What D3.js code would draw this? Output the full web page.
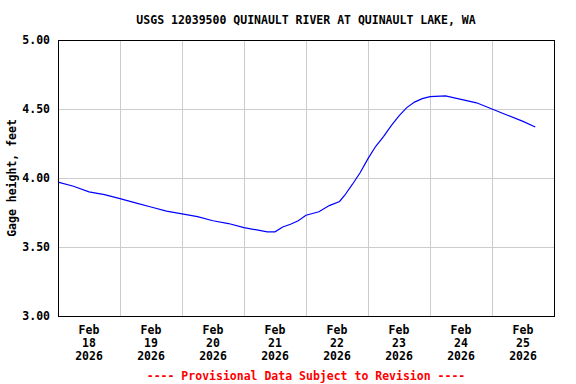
<!DOCTYPE html>
<html>
<head>
<meta charset="utf-8">
<script src="https://cdn.jsdelivr.net/npm/d3@7"></script>
<style>
  body { margin: 0; background: #fff; }
  text { font-family: "DejaVu Sans Mono", "Liberation Mono", monospace; font-weight: bold; }
</style>
</head>
<body>
<div id="chart"></div>
<script>
// gage height readings (feet)
const times = [
  "2026-02-18T00:00", "2026-02-18T06:00", "2026-02-18T12:00", "2026-02-18T18:00",
  "2026-02-19T00:00", "2026-02-19T06:00", "2026-02-19T12:00", "2026-02-19T18:00",
  "2026-02-20T00:00", "2026-02-20T06:00", "2026-02-20T12:00", "2026-02-20T18:00",
  "2026-02-21T00:00", "2026-02-21T06:00", "2026-02-21T09:00", "2026-02-21T12:00",
  "2026-02-21T15:00", "2026-02-21T18:00", "2026-02-21T21:00",
  "2026-02-22T00:00", "2026-02-22T05:00", "2026-02-22T09:00", "2026-02-22T13:00",
  "2026-02-22T15:00", "2026-02-22T18:00", "2026-02-22T21:00",
  "2026-02-23T00:00", "2026-02-23T03:00", "2026-02-23T06:00", "2026-02-23T09:00",
  "2026-02-23T12:00", "2026-02-23T15:00", "2026-02-23T18:00", "2026-02-23T21:00",
  "2026-02-24T00:00", "2026-02-24T06:00", "2026-02-24T12:00", "2026-02-24T18:00",
  "2026-02-25T00:00", "2026-02-25T06:00", "2026-02-25T12:00", "2026-02-25T16:45"
];
const heights = [
  3.97, 3.94, 3.90, 3.88,
  3.85, 3.82, 3.79, 3.76,
  3.74, 3.72, 3.69, 3.67,
  3.64, 3.62, 3.61, 3.61,
  3.645, 3.665, 3.69,
  3.73, 3.755, 3.80, 3.83,
  3.875, 3.955, 4.04,
  4.14, 4.23, 4.30, 4.38,
  4.45, 4.51, 4.55, 4.575,
  4.59, 4.595, 4.57, 4.545,
  4.50, 4.455, 4.41, 4.37
];
const yTicks = [3.0, 3.5, 4.0, 4.5, 5.0];
const dayLabels = ["18", "19", "20", "21", "22", "23", "24", "25"];

const title = "USGS 12039500 QUINAULT RIVER AT QUINAULT LAKE, WA";
const yLabel = "Gage height, feet";
const footer = "---- Provisional Data Subject to Revision ----";

const svgWidth = 576, svgHeight = 384;
const margin = { top: 40, right: 22, bottom: 68, left: 58 };
const width = svgWidth - margin.left - margin.right;
const height = svgHeight - margin.top - margin.bottom;

const parse = d3.timeParse("%Y-%m-%dT%H:%M");
const data = times.map((t, i) => ({ t: parse(t), v: heights[i] }));

const svg = d3.select("#chart").append("svg")
    .attr("width", svgWidth)
    .attr("height", svgHeight);

const g = svg.append("g")
    .attr("transform", `translate(${margin.left},${margin.top})`);

const x = d3.scaleTime()
    .domain([parse("2026-02-18T00:00"), parse("2026-02-26T00:00")])
    .range([0, width]);

const y = d3.scaleLinear()
    .domain([3, 5])
    .range([height, 0]);

// grid
const days = d3.timeDay.range(parse("2026-02-19T00:00"), parse("2026-02-26T00:00"));
g.selectAll(".vgrid").data(days).enter().append("line")
    .attr("x1", d => Math.round(x(d)) + 0.5)
    .attr("x2", d => Math.round(x(d)) + 0.5)
    .attr("y1", 0).attr("y2", height)
    .attr("stroke", "#cccccc");

g.selectAll(".hgrid").data(yTicks).enter().append("line")
    .attr("x1", 0).attr("x2", width)
    .attr("y1", d => Math.round(y(d)) + 0.5)
    .attr("y2", d => Math.round(y(d)) + 0.5)
    .attr("stroke", "#cccccc");

// data line
const line = d3.line()
    .x(d => x(d.t))
    .y(d => y(d.v));

g.append("path")
    .datum(data)
    .attr("d", line)
    .attr("fill", "none")
    .attr("stroke", "#0000ff")
    .attr("stroke-width", 1.2);

// frame
g.append("rect")
    .attr("x", 0.5).attr("y", 0.5)
    .attr("width", width).attr("height", height)
    .attr("fill", "none")
    .attr("stroke", "#000");

// y tick labels
g.selectAll(".ylab").data(yTicks).enter().append("text")
    .attr("x", -8)
    .attr("y", d => y(d) + 4)
    .attr("text-anchor", "end")
    .attr("font-size", "11.5px")
    .text(d => d.toFixed(2));

// x tick labels (centered on noon of each day)
const noons = dayLabels.map(d => parse(`2026-02-${d}T12:00`));
const xl = g.selectAll(".xlab").data(noons).enter().append("text")
    .attr("text-anchor", "middle")
    .attr("font-size", "11.5px");
xl.append("tspan").attr("x", d => x(d)).attr("y", height + 18).text("Feb");
xl.append("tspan").attr("x", d => x(d)).attr("y", height + 31).text((d, i) => dayLabels[i]);
xl.append("tspan").attr("x", d => x(d)).attr("y", height + 44).text("2026");

// title
svg.append("text")
    .attr("x", margin.left + width / 2)
    .attr("y", 24)
    .attr("text-anchor", "middle")
    .attr("font-size", "11.5px")
    .text(title);

// y axis label
svg.append("text")
    .attr("transform", `translate(16, ${margin.top + height / 2}) rotate(-90)`)
    .attr("text-anchor", "middle")
    .attr("font-size", "11.5px")
    .text(yLabel);

// footer
svg.append("text")
    .attr("x", margin.left + width / 2)
    .attr("y", 380)
    .attr("text-anchor", "middle")
    .attr("font-size", "11.5px")
    .attr("fill", "#ff0000")
    .text(footer);
</script>
</body>
</html>
